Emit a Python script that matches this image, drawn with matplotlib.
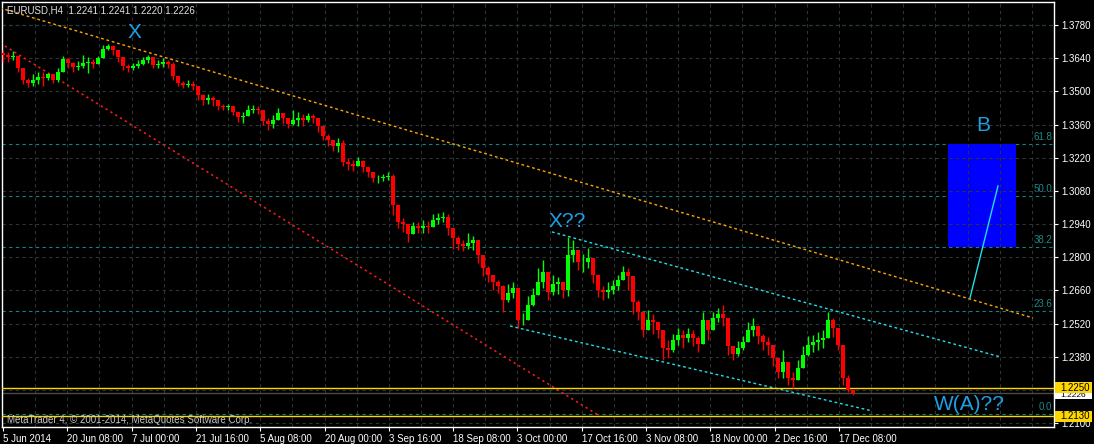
import numpy as np
import matplotlib
matplotlib.use("Agg")
import matplotlib.pyplot as plt
from matplotlib.patches import Rectangle
from matplotlib.transforms import blended_transform_factory

# EURUSD H4, one candle per ~4 H4 bars
first_open = 1.3662
closes = [
    1.3654, 1.3645, 1.3649, 1.3599, 1.3548, 1.3535, 1.3548, 1.3561, 1.3557, 1.3573,
    1.3548, 1.3582, 1.3637, 1.3620, 1.3603, 1.3607, 1.3620, 1.3624, 1.3616, 1.3641,
    1.3679, 1.3692, 1.3675, 1.3645, 1.3607, 1.3599, 1.3607, 1.3616, 1.3632, 1.3645,
    1.3611, 1.3616, 1.3624, 1.3616, 1.3565, 1.3535, 1.3527, 1.3531, 1.3523, 1.3485,
    1.3464, 1.3472, 1.3464, 1.3438, 1.3434, 1.3438, 1.3413, 1.3392, 1.3396, 1.3421,
    1.3426, 1.3421, 1.3375, 1.3362, 1.3379, 1.3409, 1.3388, 1.3362, 1.3379, 1.3388,
    1.3379, 1.3396, 1.3388, 1.3354, 1.3312, 1.3295, 1.3270, 1.3282, 1.3202, 1.3194,
    1.3185, 1.3206, 1.3181, 1.3160, 1.3135, 1.3135, 1.3139, 1.3143, 1.3021, 1.2949,
    1.2941, 1.2899, 1.2932, 1.2924, 1.2932, 1.2928, 1.2958, 1.2966, 1.2970, 1.2924,
    1.2882, 1.2856, 1.2848, 1.2861, 1.2873, 1.2810, 1.2755, 1.2726, 1.2696, 1.2679,
    1.2620, 1.2650, 1.2671, 1.2536, 1.2536, 1.2599, 1.2641, 1.2696, 1.2738, 1.2654,
    1.2688, 1.2696, 1.2662, 1.2810, 1.2831, 1.2780, 1.2780, 1.2797, 1.2726, 1.2662,
    1.2654, 1.2662, 1.2679, 1.2705, 1.2738, 1.2721, 1.2612, 1.2570, 1.2494, 1.2536,
    1.2527, 1.2494, 1.2418, 1.2409, 1.2451, 1.2473, 1.2460, 1.2477, 1.2460, 1.2435,
    1.2536, 1.2494, 1.2544, 1.2561, 1.2544, 1.2426, 1.2392, 1.2418, 1.2443, 1.2494,
    1.2510, 1.2468, 1.2443, 1.2430, 1.2376, 1.2316, 1.2359, 1.2291, 1.2283, 1.2333,
    1.2388, 1.2430, 1.2443, 1.2451, 1.2460, 1.2536, 1.2502, 1.2430, 1.2291, 1.2241,
    1.2226,
]
highs = [
    1.3675, 1.3666, 1.3670, 1.3649, 1.3590, 1.3557, 1.3573, 1.3582, 1.3582, 1.3578,
    1.3573, 1.3599, 1.3649, 1.3641, 1.3624, 1.3628, 1.3654, 1.3645, 1.3637, 1.3649,
    1.3696, 1.3700, 1.3696, 1.3675, 1.3645, 1.3616, 1.3620, 1.3632, 1.3645, 1.3654,
    1.3632, 1.3632, 1.3641, 1.3632, 1.3624, 1.3557, 1.3544, 1.3548, 1.3544, 1.3523,
    1.3489, 1.3489, 1.3481, 1.3451, 1.3447, 1.3447, 1.3430, 1.3413, 1.3413, 1.3443,
    1.3443, 1.3438, 1.3405, 1.3388, 1.3400, 1.3430, 1.3405, 1.3388, 1.3421, 1.3413,
    1.3405, 1.3409, 1.3405, 1.3388, 1.3346, 1.3320, 1.3295, 1.3303, 1.3295, 1.3219,
    1.3211, 1.3223, 1.3211, 1.3181, 1.3152, 1.3147, 1.3152, 1.3160, 1.3152, 1.3008,
    1.2966, 1.2932, 1.2949, 1.2949, 1.2958, 1.2953, 1.2983, 1.2987, 1.2991, 1.2983,
    1.2924, 1.2890, 1.2873, 1.2903, 1.2890, 1.2873, 1.2797, 1.2764, 1.2721, 1.2705,
    1.2683, 1.2688, 1.2696, 1.2641, 1.2565, 1.2637, 1.2671, 1.2755, 1.2789, 1.2713,
    1.2726, 1.2717, 1.2683, 1.2886, 1.2873, 1.2823, 1.2814, 1.2839, 1.2768, 1.2705,
    1.2679, 1.2696, 1.2705, 1.2726, 1.2764, 1.2755, 1.2662, 1.2620, 1.2544, 1.2578,
    1.2561, 1.2527, 1.2460, 1.2451, 1.2477, 1.2502, 1.2494, 1.2502, 1.2494, 1.2468,
    1.2570, 1.2527, 1.2570, 1.2586, 1.2599, 1.2536, 1.2422, 1.2447, 1.2468, 1.2527,
    1.2544, 1.2502, 1.2477, 1.2464, 1.2418, 1.2367, 1.2409, 1.2325, 1.2316, 1.2367,
    1.2426, 1.2468, 1.2473, 1.2485, 1.2494, 1.2570, 1.2544, 1.2481, 1.2359, 1.2304,
    1.2241,
]
lows = [
    1.3624, 1.3624, 1.3632, 1.3582, 1.3531, 1.3519, 1.3523, 1.3531, 1.3523, 1.3548,
    1.3535, 1.3540, 1.3607, 1.3599, 1.3582, 1.3590, 1.3599, 1.3578, 1.3599, 1.3616,
    1.3641, 1.3675, 1.3654, 1.3624, 1.3590, 1.3582, 1.3590, 1.3599, 1.3611, 1.3620,
    1.3599, 1.3599, 1.3603, 1.3599, 1.3548, 1.3523, 1.3514, 1.3519, 1.3506, 1.3464,
    1.3443, 1.3447, 1.3438, 1.3421, 1.3421, 1.3421, 1.3400, 1.3371, 1.3367, 1.3400,
    1.3409, 1.3405, 1.3358, 1.3337, 1.3346, 1.3379, 1.3362, 1.3346, 1.3358, 1.3354,
    1.3354, 1.3371, 1.3367, 1.3329, 1.3295, 1.3270, 1.3249, 1.3244, 1.3185, 1.3168,
    1.3164, 1.3185, 1.3160, 1.3139, 1.3118, 1.3114, 1.3122, 1.3126, 1.2979, 1.2924,
    1.2907, 1.2865, 1.2903, 1.2903, 1.2903, 1.2903, 1.2932, 1.2941, 1.2949, 1.2894,
    1.2835, 1.2831, 1.2827, 1.2835, 1.2831, 1.2776, 1.2721, 1.2696, 1.2662, 1.2650,
    1.2570, 1.2612, 1.2629, 1.2502, 1.2515, 1.2544, 1.2595, 1.2654, 1.2671, 1.2620,
    1.2641, 1.2645, 1.2629, 1.2637, 1.2780, 1.2747, 1.2738, 1.2755, 1.2692, 1.2633,
    1.2620, 1.2629, 1.2645, 1.2662, 1.2705, 1.2662, 1.2561, 1.2536, 1.2464, 1.2494,
    1.2477, 1.2460, 1.2367, 1.2376, 1.2401, 1.2430, 1.2418, 1.2443, 1.2426, 1.2401,
    1.2485, 1.2451, 1.2510, 1.2527, 1.2510, 1.2388, 1.2367, 1.2384, 1.2409, 1.2451,
    1.2468, 1.2435, 1.2409, 1.2388, 1.2342, 1.2291, 1.2291, 1.2262, 1.2249, 1.2291,
    1.2346, 1.2384, 1.2401, 1.2409, 1.2418, 1.2477, 1.2464, 1.2409, 1.2262, 1.2232,
    1.2220,
]

price_ticks = [1.2100, 1.2240, 1.2380, 1.2520, 1.2660, 1.2800, 1.2940,
               1.3080, 1.3220, 1.3360, 1.3500, 1.3640, 1.3780]
date_labels = ["5 Jun 2014", "20 Jun 08:00", "7 Jul 00:00", "21 Jul 16:00",
               "5 Aug 08:00", "20 Aug 00:00", "3 Sep 16:00", "18 Sep 08:00",
               "3 Oct 00:00", "17 Oct 16:00", "3 Nov 08:00", "18 Nov 00:00",
               "2 Dec 16:00", "17 Dec 08:00"]

# fibonacci retracement
fib_names = ["0.0", "23.6", "38.2", "50.0", "61.8"]
fib_prices = [1.2139, 1.2574, 1.2843, 1.3060, 1.3278]
top_level = 1.3780

# support lines and current price
support_levels = [1.2250, 1.2130]
bid = 1.2226

# trend lines (bar index, price)
orange_x, orange_y = [-0.6, 206.0], [1.3852, 1.2544]
red_x, red_y = [-0.6, 119.0], [1.3704, 1.2135]
upper_x, upper_y = [109.8, 199.4], [1.2907, 1.2380]
lower_x, lower_y = [101.4, 173.8], [1.2510, 1.2152]
leg_x, leg_y = [193.4, 199.0], [1.2629, 1.3101]
box_x, box_y = [189.0, 202.6], [1.2843, 1.3278]

# wave labels
wave_text = ["X", "X??", "B", "W(A)??"]
wave_x = [26.2, 112.8, 196.1, 193.2]
wave_y = [1.3750, 1.2953, 1.3358, 1.2177]

plt.rcParams['font.family'] = ['Liberation Sans', 'DejaVu Sans']

fig = plt.figure(figsize=(10.94, 4.44), dpi=100, facecolor="black")
ax = fig.add_axes([2 / 1094, 17 / 444, 1052 / 1094, 425 / 444])
ax.set_facecolor("black")
ax.set_xlim(-0.2, 210.2)
ax.set_ylim(1.2084, 1.3877)

grid_col = "#2b3535"
teal = "#138484"
for p in price_ticks:
    ax.axhline(p, color=grid_col, lw=0.8, ls=(0, (3, 3)), zorder=2)
for k in range(1, 33):
    ax.axvline(k * 6.43, color=grid_col, lw=0.8, ls=(0, (3, 3)), zorder=2)

for name, p in zip(fib_names, fib_prices):
    ax.axhline(p, color=teal, lw=0.8, ls=(0, (3, 3)), zorder=1)
    ax.text(209.8, p + 0.0008, name, color="#1a8a8a", fontsize=7,
            ha="right", va="bottom", zorder=1)
ax.axhline(top_level, color=teal, lw=0.8, ls=(0, (3, 3)), zorder=1)

ax.add_patch(Rectangle((box_x[0], box_y[0]), box_x[1] - box_x[0],
                       box_y[1] - box_y[0], color="#0000ff", lw=0, zorder=1.5))

for p in support_levels:
    ax.axhline(p, color="#ffd700", lw=1, zorder=3)
ax.axhline(bid, color="#4a4a4a", lw=1, zorder=2.5)

ax.plot(orange_x, orange_y, color="#ffa500", lw=1, ls=(0, (2, 2)), zorder=2.6)
ax.plot(red_x, red_y, color="#ff1a1a", lw=1.1, ls=(0, (1.5, 2.2)), zorder=2.6)
ax.plot(upper_x, upper_y, color="#20e0e8", lw=1, ls=(0, (2, 2)), zorder=2.6)
ax.plot(lower_x, lower_y, color="#20e0e8", lw=1, ls=(0, (2, 2)), zorder=2.6)
ax.plot(leg_x, leg_y, color="#20e0e8", lw=1, zorder=2.6)

# candles
idx = np.arange(len(closes))
c = np.array(closes)
o = np.concatenate([[first_open], c[:-1]])
h = np.maximum(np.array(highs), np.maximum(o, c))
l = np.minimum(np.array(lows), np.minimum(o, c))
cols = np.where(c >= o, "#00ff00", "#ff0000")
ax.vlines(idx, l, h, colors=cols, lw=1.0, zorder=4)
ax.bar(idx, np.maximum(np.abs(c - o), 0.00008), bottom=np.minimum(o, c),
       width=0.75, color=cols, lw=0, zorder=4)

for t, x, y in zip(wave_text, wave_x, wave_y):
    ax.text(x, y, t, color="#1ca0e6", fontsize=15, ha="center", va="center",
            zorder=5)

# axes
for s in ax.spines.values():
    s.set_color("white")
    s.set_linewidth(1)
ax.yaxis.tick_right()
# 1.2240 sits under the price tags, so its label is left blank
ax.set_yticks(price_ticks, ["" if p == 1.2240 else f"{p:.4f}" for p in price_ticks])
ax.set_xticks(np.arange(len(date_labels)) * 12.86, date_labels, ha="left")
ax.tick_params(colors="white", labelcolor="white", labelsize=7, length=3,
               width=0.8, pad=2)

ax.text(0.0048, 0.979, "EURUSD,H4  1.2241 1.2241 1.2220 1.2226",
        transform=ax.transAxes, color="#e0e0e0", fontsize=7, va="center")
ax.text(0.0048, 0.0165, "MetaTrader 4, \u00a9 2001-2014, MetaQuotes Software Corp.",
        transform=ax.transAxes, color="#c8c8c8", fontsize=7, va="center")

# price tags on the right scale; the bid tag peeks out below the 1.2250 tag
tr = blended_transform_factory(ax.transAxes, ax.transData)
tag_h = 0.00464
bid_box = Rectangle((1.001, bid - tag_h / 2), 0.0352, tag_h, transform=tr,
                    color="white", lw=0, clip_on=False, zorder=6)
ax.add_patch(bid_box)
visible = Rectangle((1.001, bid - tag_h / 2), 0.0352, 1.2250 - tag_h / 2 - (bid - tag_h / 2),
                    transform=tr, fill=False, lw=0)
ax.add_patch(visible)
bid_txt = ax.text(1.0057, bid - 0.0011, f"{bid:.4f}", transform=tr, color="black",
                  fontsize=6, va="center", ha="left", zorder=6.5)
bid_txt.set_clip_path(visible)
for p in support_levels:
    ax.add_patch(Rectangle((1.001, p - tag_h / 2), 0.0352, tag_h, transform=tr,
                           color="#ffd700", lw=0, clip_on=False, zorder=7))
    ax.text(1.0057, p, f"{p:.4f}", transform=tr, color="black", fontsize=7,
            va="center", ha="left", clip_on=False, zorder=8)

fig.savefig("out.png", dpi=100, facecolor="black")
